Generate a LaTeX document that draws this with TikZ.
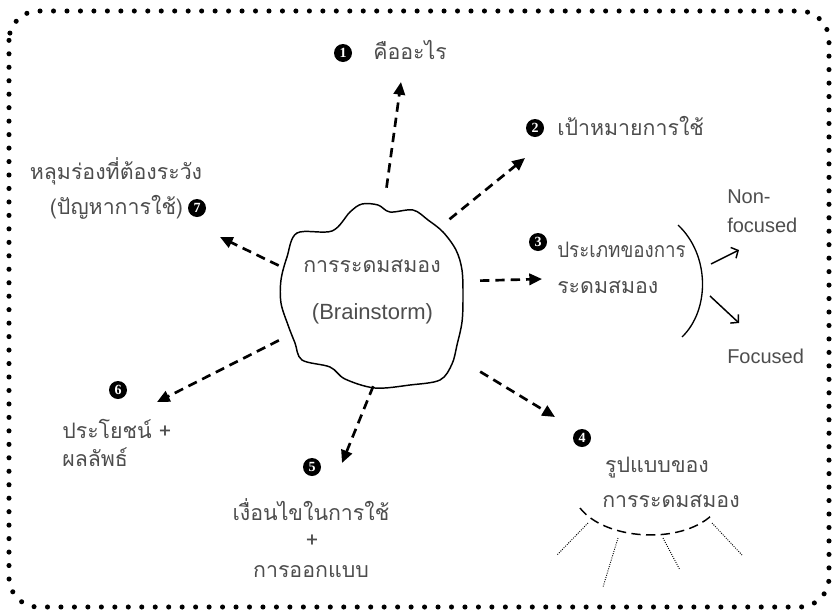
\documentclass[tikz,border=0pt]{standalone}
\usepackage{fontspec}
\setmainfont{Liberation Sans}
\newfontfamily\thaifont[Script=Thai]{Loma}
\newfontfamily\thainarrow[Script=Thai, FakeStretch=0.88]{Loma}
\newfontfamily\numfont{Liberation Serif}
\usetikzlibrary{arrows.meta, shapes.geometric}
\definecolor{inkgray}{HTML}{4d4d4d}

\begin{document}
\begin{tikzpicture}[x=0.75pt, y=-0.75pt,
 th/.style={font=\thaifont\fontsize{16}{20}\selectfont, text=inkgray, inner sep=0pt},
 lat/.style={font=\fontsize{15}{18}\selectfont, text=inkgray, inner sep=0pt},
 num/.style={circle, fill=black, text=white, inner sep=0pt, minimum size=13.5pt,
   font=\numfont\bfseries\fontsize{10.5}{10.5}\selectfont},
 flow/.style={line width=2pt, dash pattern=on 7pt off 4.5pt, -{Triangle[length=9.5pt,width=8.5pt]}},
 pick/.style={line width=1.1pt, -{Straight Barb[length=4pt,width=9pt]}},
 ray/.style={densely dotted, line width=0.7pt}]
\useasboundingbox (0,0) rectangle (832,611);

% dotted frame
\draw[line width=3.8pt, line cap=round, dash pattern=on 0pt off 10.1pt, rounded corners=22pt]
  (9,11) rectangle (829,607);

% cloud in the middle
\node[circle, minimum size=138pt, inner sep=0pt] (brain) at (370,294) {};
\draw[line width=1.1pt, line join=round] plot[smooth cycle, tension=0.55] coordinates {
  (297,233) (332,231) (350,212) (362,204) (378,205) (390,212) (413,210) (428,220)
  (443,232) (456,250) (462,270) (463,297) (462,322) (457,345) (452,364) (440,380)
  (410,385) (375,388) (345,379) (330,367) (302,360) (295,343) (288,325) (281,303)
  (281,280) (287,257)};
\node[th, anchor=base] (bt) at (372,272) {การระดมสมอง};
\node[lat, font=\fontsize{16.5}{20}\selectfont, anchor=base] (bl) at (372.5,319) {(Brainstorm)};

% 1
\node[num] (n1) at (343,53) {1};
\node[th, anchor=base west] (t1) at (373,59) {คืออะไร};
% 2
\node[num] (n2) at (535,128) {2};
\node[th, anchor=base west] (t2) at (557,135) {เป้าหมายการใช้};
% 3
\node[num] (n3) at (538,242) {3};
\node[th, font=\thainarrow\fontsize{16}{20}\selectfont, anchor=base west] (t3a) at (557,257) {ประเภทของการ};
\node[th, anchor=base west] (t3b) at (557,293) {ระดมสมอง};
\node[lat, anchor=base west] (nf1) at (727,203) {Non-};
\node[lat, anchor=base west] (nf2) at (727,232) {focused};
\node[lat, anchor=base west] (fo) at (727,363) {Focused};
% 4
\node[num] (n4) at (582,438) {4};
\node[th, anchor=base] (t4a) at (657,472) {รูปแบบของ};
\node[th, anchor=base] (t4b) at (671,507) {การระดมสมอง};
% 5
\node[num] (n5) at (312,467) {5};
\node[th, anchor=base] (t5a) at (311,520) {เงื่อนไขในการใช้};
\node[th, anchor=base] (t5b) at (312,547) {+};
\node[th, anchor=base] (t5c) at (311,577) {การออกแบบ};
% 6
\node[num] (n6) at (118,390) {6};
\node[th, anchor=base west] (t6a) at (62,438) {ประโยชน์ +};
\node[th, anchor=base west] (t6b) at (62,466) {ผลลัพธ์};
% 7
\node[num] (n7) at (197,208) {7};
\node[th, anchor=base] (t7a) at (116,179) {หลุมร่องที่ต้องระวัง};
\node[th, anchor=base] (t7b) at (116.5,214) {(ปัญหาการใช้)};

% arrow ends
\coordinate (e1) at (401,82);
\coordinate (e2) at (525,158);
\coordinate (e3) at (542,279);
\coordinate (e4) at (555,417);
\coordinate (e5) at (342,463);
\coordinate (e6) at (157,402);
\coordinate (e7) at (220,237);

\draw[flow, shorten <=11.5pt] (brain.81) -- (e1);
\draw[flow, shorten <=12.7pt] (brain.44) -- (e2);
\draw[flow, shorten <=14pt] (brain.8) -- (e3);
\draw[flow, shorten <=32pt] (brain.-37) -- (e4);
\draw[flow] (brain.-88) -- (e5);
\draw[flow, shorten <=7.5pt] (brain.-153) -- (e6);
\draw[flow, shorten <=2.6pt] (brain.163) -- (e7);

% bracket and the two kinds
\draw[line width=1pt] (678,225) .. controls (710,255) and (710,310) .. (682,337);
\coordinate (u0) at (711,264);
\coordinate (u1) at (739,250);
\coordinate (d0) at (710,296);
\coordinate (d1) at (739,323);
\draw[pick] (u0) -- (u1);
\draw[pick] (d0) -- (d1);

% fan under 4
\draw[line width=1.1pt, dash pattern=on 7pt off 4pt] (580,508) .. controls (605,540) and (680,545) .. (712,515);
\draw[ray] (588,523) -- (557,555);
\draw[ray] (618,538) -- (603,587);
\draw[ray] (663,538) -- (680,570);
\draw[ray] (712,523) -- (742,555);

\end{tikzpicture}
\end{document}
